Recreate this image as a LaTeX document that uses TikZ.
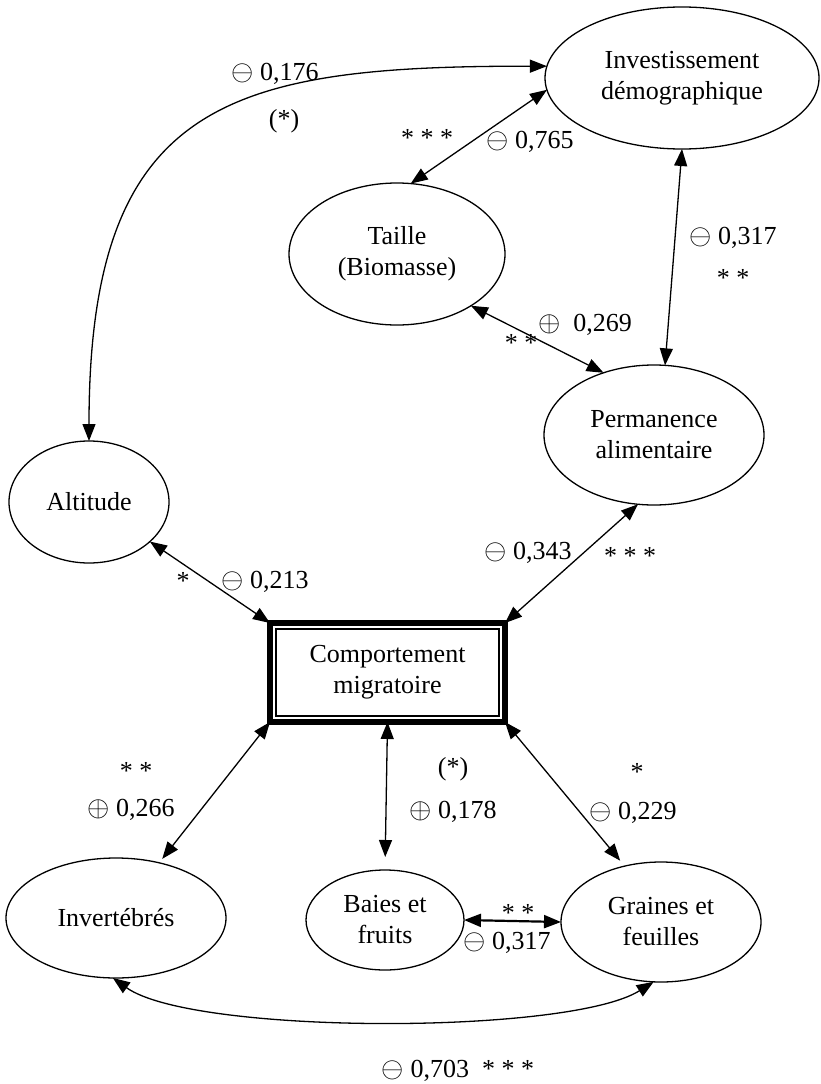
\documentclass[tikz,border=0pt]{standalone}
\usepackage{fontspec}
\setmainfont{Liberation Serif}
\usetikzlibrary{arrows.meta,shapes.geometric,calc}
% circled signs of the coefficients
\newcommand{\mneg}{\raisebox{-0.3pt}{\scalebox{1.15}{$\ominus$}}}
\newcommand{\mpos}{\raisebox{-0.3pt}{\scalebox{1.15}{$\oplus$}}}

\begin{document}
\begin{tikzpicture}[x=1pt,y=-1pt,
  every node/.style={font=\fontsize{26}{31}\selectfont},
  var/.style={ellipse,draw,line width=1.3pt,inner sep=0pt,outer sep=0pt,align=center},
  link/.style={line width=1.3pt,{Triangle[length=17pt,width=13pt]}-{Triangle[length=17pt,width=13pt]}},
  lab/.style={inner sep=0pt}]
\useasboundingbox (0,0) rectangle (820,1084);

% variables
\node[var,minimum width=274pt,minimum height=142pt] (inv) at (682,78) {Investissement\\démographique};
\node[var,minimum width=216pt,minimum height=142pt] (tai) at (397,254) {Taille\\(Biomasse)};
\node[var,minimum width=220pt,minimum height=140pt] (per) at (654,435) {Permanence\\alimentaire};
\node[var,minimum width=160pt,minimum height=122pt] (alt) at (89,502) {Altitude};
\node[draw,line width=6pt,minimum width=235pt,minimum height=99pt,align=center,inner sep=0pt,outer sep=0pt] (cmp) at (387.5,672.5) {Comportement\\migratoire};
\draw[line width=1.2pt] ($(cmp.north west)+(6,6)$) rectangle ($(cmp.south east)+(-6,-6)$);
\node[var,minimum width=220pt,minimum height=120pt] (ivt) at (116,918) {Invertébrés};
\node[var,minimum width=158pt,minimum height=100pt] (bai) at (385,920) {Baies et\\fruits};
\node[var,minimum width=200pt,minimum height=120pt] (gra) at (661,922) {Graines et\\feuilles};

% connectors
\draw[link] (alt.north) .. controls (89,100) and (230,66) .. (inv.175);
\draw[link] (tai.79) -- (inv.185);
\draw[link] (inv.south) -- (per.81);
\draw[link] (tai.-35) -- (per.129);
\draw[link] (alt.-33) -- (cmp.north west);
\draw[link] (per.-103) -- (cmp.north east);
\draw[link,shorten >=5pt] (cmp.south west) -- (ivt.52);
\draw[link,shorten >=13pt] (cmp.south) -- (bai.north);
\draw[link,shorten >=7pt] (cmp.south east) -- (gra.123);
\draw[link,line width=2.2pt] (bai.east) -- (gra.west);
\draw[link] (ivt.-93) .. controls (193,1035) and (569,1035) .. (gra.-97);

% coefficients and significance
\node[lab] (c176) at (275,74) {\mneg\ 0,176};
\node[lab] (s176) at (284,121) {(*)};
\node[lab] (s765) at (427,138) {* * *};
\node[lab] (c765) at (530,142) {\mneg\ 0,765};
\node[lab] (c317a) at (733,238) {\mneg\ 0,317};
\node[lab] (s317a) at (733,278) {* *};
\node[lab] (c269) at (585,325) {\mpos\ \ 0,269};
\node[lab] (s269) at (521,343) {* *};
\node[lab] (s213) at (183,581) {*};
\node[lab] (c213) at (265,582) {\mneg\ 0,213};
\node[lab] (c343) at (528,553) {\mneg\ 0,343};
\node[lab] (s343) at (630,556) {* * *};
\node[lab] (s266) at (136,771) {* *};
\node[lab] (c266) at (131,810) {\mpos\ 0,266};
\node[lab] (s178) at (453,769) {(*)};
\node[lab] (c178) at (453,812) {\mpos\ 0,178};
\node[lab] (s229) at (637,772) {*};
\node[lab] (c229) at (633,813) {\mneg\ 0,229};
\node[lab] (s317b) at (518,913) {* *};
\node[lab] (c317b) at (507,943) {\mneg\ 0,317};
\node[lab] (c703) at (458,1071) {\mneg\ 0,703\ \ * * *};
\end{tikzpicture}
\end{document}
